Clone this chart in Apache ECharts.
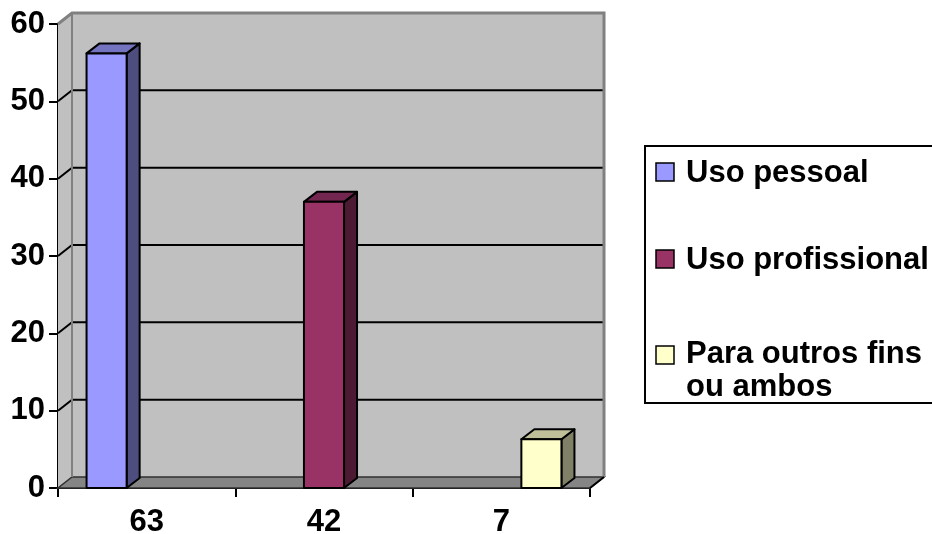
<!DOCTYPE html>
<html>
<head>
<meta charset="utf-8">
<script src="https://cdn.jsdelivr.net/npm/echarts@6/dist/echarts.min.js"></script>
<style>
  html, body { margin: 0; padding: 0; background: #fff; }
  #chart { width: 932px; height: 534px; }
</style>
</head>
<body>
<div id="chart"></div>
<script>
// Category labels along the x axis
const categories = ['63', '42', '7'];
// One series per purpose; each has a single column in its own category
const seriesNames = ['Uso pessoal', 'Uso profissional', 'Para outros fins\nou ambos'];
const values = [56.2, 37.0, 6.3];
// Value axis ticks
const yMin = 0, yMax = 60, yStep = 10;

// Face colours for each column: front, side, top
const palette = [
  { front: '#9999ff', side: '#4d4d80', top: '#7373bf' },
  { front: '#993366', side: '#4d1a33', top: '#732650' },
  { front: '#ffffcc', side: '#808066', top: '#bfbf99' }
];

const FONT = "'Liberation Sans', Arial, sans-serif";
const WALL_DX = 14, WALL_DY = -11;   // depth of the walls/floor
const BAR_DX = 13, BAR_DY = -10;     // depth of each column

function renderWalls(params, api) {
  const cs = params.coordSys;
  const x0 = cs.x, x1 = cs.x + cs.width;
  const yOf = v => api.coord([0, v])[1];
  const yb = yOf(yMin), yt = yOf(yMax);
  const dx = WALL_DX, dy = WALL_DY;
  const kids = [];
  kids.push({ type: 'polygon', shape: { points: [[x0, yt], [x0 + dx, yt + dy], [x0 + dx, yb + dy], [x0, yb]] },
    style: { fill: '#c0c0c0' } });
  kids.push({ type: 'rect', shape: { x: x0 + dx, y: yt + dy, width: cs.width, height: yb - yt },
    style: { fill: '#c0c0c0' } });
  kids.push({ type: 'polygon', shape: { points: [[x0, yb], [x1, yb], [x1 + dx, yb + dy], [x0 + dx, yb + dy]] },
    style: { fill: '#858585', stroke: '#303030', lineWidth: 1.5 } });
  for (let v = yMin + yStep; v < yMax; v += yStep) {
    const y = yOf(v);
    kids.push({ type: 'polyline', shape: { points: [[x0, y], [x0 + dx, y + dy], [x1 + dx, y + dy]] },
      style: { stroke: '#000', lineWidth: 2, fill: null } });
  }
  kids.push({ type: 'polyline', shape: { points: [[x0, yt], [x0 + dx, yt + dy], [x1 + dx, yt + dy], [x1 + dx, yb + dy]] },
    style: { stroke: '#808080', lineWidth: 3, fill: null } });
  kids.push({ type: 'line', shape: { x1: x0 + dx, y1: yt + dy, x2: x0 + dx, y2: yb + dy },
    style: { stroke: '#808080', lineWidth: 2 } });
  kids.push({ type: 'line', shape: { x1: x1, y1: yb, x2: x1 + dx, y2: yb + dy },
    style: { stroke: '#000', lineWidth: 2 } });
  return { type: 'group', children: kids };
}

function renderColumn(params, api) {
  const cat = api.value(0), val = api.value(1), slot = api.value(2);
  const catW = api.size([1, 0])[0];
  const base = api.coord([cat, yMin]);
  const yTop = api.coord([cat, val])[1];
  const yBot = base[1];
  const barW = catW * 40 / 177;
  const side = catW * 28.5 / 177;
  const xl = base[0] - catW / 2 + side + slot * barW;
  const xr = xl + barW;
  const c = palette[slot];
  const st = { stroke: '#000', lineWidth: 2, lineJoin: 'round' };
  return {
    type: 'group',
    children: [
      { type: 'polygon', shape: { points: [[xr, yTop], [xr + BAR_DX, yTop + BAR_DY], [xr + BAR_DX, yBot + BAR_DY], [xr, yBot]] },
        style: Object.assign({ fill: c.side }, st) },
      { type: 'polygon', shape: { points: [[xl, yTop], [xl + BAR_DX, yTop + BAR_DY], [xr + BAR_DX, yTop + BAR_DY], [xr, yTop]] },
        style: Object.assign({ fill: c.top }, st) },
      { type: 'rect', shape: { x: xl, y: yTop, width: barW, height: yBot - yTop },
        style: Object.assign({ fill: c.front }, st) }
    ]
  };
}

const series = [{
  type: 'custom',
  name: 'walls',
  renderItem: renderWalls,
  data: [[0, 0]],
  silent: true,
  z: 1
}];
seriesNames.forEach((name, i) => {
  series.push({
    type: 'custom',
    name: name,
    renderItem: renderColumn,
    encode: { x: 0, y: 1 },
    data: [[i, values[i], i]],
    itemStyle: { color: palette[i].front },
    z: 3
  });
});

// Legend drawn as graphic elements, built from the series names
const legendChildren = [{
  type: 'rect', shape: { x: 645, y: 146, width: 320, height: 257 },
  style: { fill: '#fff', stroke: '#000', lineWidth: 2 }
}];
const legendY = [173, 260, 371];
const iconY = [163, 250, 346];
seriesNames.forEach((name, i) => {
  legendChildren.push({
    type: 'rect', shape: { x: 656, y: iconY[i], width: 18, height: 18 },
    style: { fill: palette[i].front, stroke: '#000', lineWidth: 1.5 }
  });
  legendChildren.push({
    type: 'text',
    style: { x: 686, y: legendY[i], text: name, font: 'bold 31px ' + FONT, fill: '#000',
      verticalAlign: 'middle', align: 'left', lineHeight: 33 }
  });
});

const chart = echarts.init(document.getElementById('chart'), null, { renderer: 'canvas' });
chart.setOption({
  animation: false,
  backgroundColor: '#fff',
  grid: { left: 58, top: 24, width: 532, bottom: 46, containLabel: false, outerBoundsMode: 'none' },
  xAxis: {
    type: 'category',
    data: categories,
    axisLine: { show: true, lineStyle: { color: '#000', width: 2 } },
    axisTick: { show: true, length: 9, lineStyle: { color: '#000', width: 2 } },
    axisLabel: { fontFamily: FONT, fontWeight: 'bold', fontSize: 31, color: '#000', margin: 19 },
    splitLine: { show: false }
  },
  yAxis: {
    type: 'value',
    min: yMin, max: yMax, interval: yStep,
    axisLine: { show: true, lineStyle: { color: '#000', width: 2 } },
    axisTick: { show: true, length: 9, lineStyle: { color: '#000', width: 2 } },
    axisLabel: { fontFamily: FONT, fontWeight: 'bold', fontSize: 31, color: '#000', margin: 13 },
    splitLine: { show: false }
  },
  series: series,
  graphic: [{ type: 'group', children: legendChildren, z: 10 }]
});
</script>
</body>
</html>
